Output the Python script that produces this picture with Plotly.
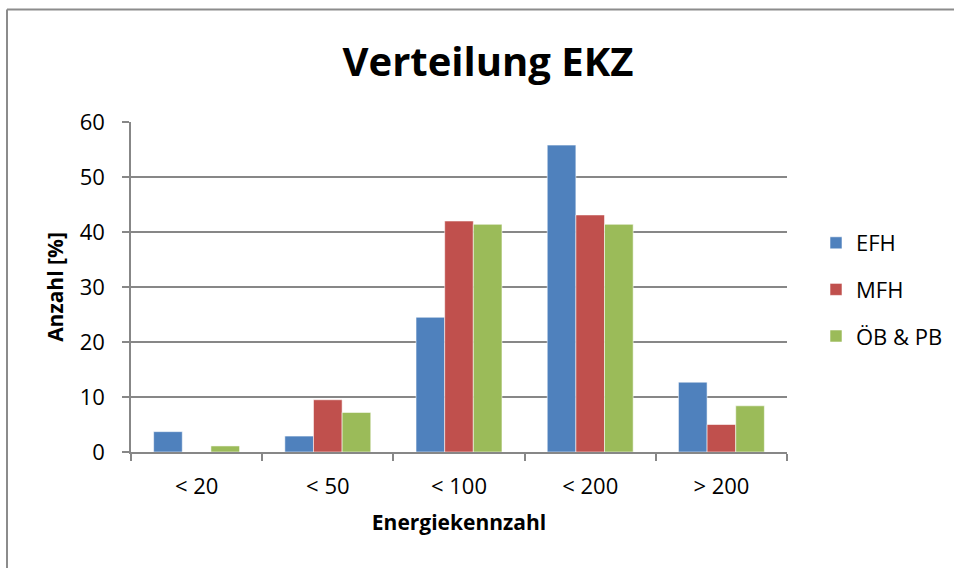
import plotly.graph_objects as go

categories = ["< 20", "< 50", "< 100", "< 200", "> 200"]
series_names = ["EFH", "MFH", "ÖB & PB"]
efh = [3.7, 2.9, 24.5, 55.8, 12.7]
mfh = [0.0, 9.5, 42.0, 43.1, 5.0]
oeb = [1.1, 7.2, 41.4, 41.4, 8.4]
colors = ["#4F81BD", "#C0504D", "#9BBB59"]
y_ticks = [0, 10, 20, 30, 40, 50, 60]

W, H = 954, 568
L, R, T, B = 131, 954 - 787, 122, 568 - 452
pw, ph = W - L - R, H - T - B

FONT = "Open Sans"
fig = go.Figure()
for name, vals, c in zip(series_names, [efh, mfh, oeb], colors):
    fig.add_trace(go.Bar(
        x=categories, y=vals, name=name, legendgroup=name,
        marker=dict(color=c, line=dict(color="rgba(255,255,255,0.55)", width=1)),
    ))

grid = "#878787"
fig.update_layout(
    width=W, height=H,
    margin=dict(l=L, r=R, t=T, b=B, autoexpand=False),
    paper_bgcolor="white", plot_bgcolor="white",
    barmode="group", bargap=0.345, bargroupgap=0,
    font=dict(family=FONT, color="black"),
    title=dict(text="<b>Verteilung EKZ</b>", font=dict(size=40, family=FONT),
               x=(488 - L) / pw, xref="paper", xanchor="center",
               y=1 - 62 / H, yref="container", yanchor="middle"),
    legend=dict(x=(836 - 20 - L) / pw, xanchor="left", y=(452 - 222) / ph, yanchor="top",
                font=dict(size=22, family=FONT), traceorder="grouped", tracegroupgap=15,
                bgcolor="rgba(0,0,0,0)"),
    xaxis=dict(type="category", showgrid=False, showline=True, linecolor=grid, linewidth=1.5,
               ticks="outside", tickson="boundaries", ticklen=7, tickcolor=grid, tickwidth=1.5,
               tickfont=dict(size=22, family=FONT), ticklabelstandoff=14,
               title=dict(text="<b>Energiekennzahl</b>", font=dict(size=21, family=FONT), standoff=16)),
    yaxis=dict(range=[0, 60], tickvals=y_ticks, showgrid=True, gridcolor=grid, gridwidth=1.5,
               showline=True, linecolor=grid, linewidth=1.5, zeroline=False,
               ticks="outside", ticklen=7, tickcolor=grid, tickwidth=1.5,
               tickfont=dict(size=22, family=FONT), ticklabelstandoff=13,
               title=dict(text="<b>Anzahl [%]</b>", font=dict(size=21, family=FONT), standoff=10)),
    shapes=[
        dict(type="line", xref="paper", yref="paper", x0=(7 - L) / pw, x1=(W + 20 - L) / pw,
             y0=(452 - 9.5) / ph, y1=(452 - 9.5) / ph, line=dict(color="#8c8c8c", width=2)),
        dict(type="line", xref="paper", yref="paper", x0=(7 - L) / pw, x1=(7 - L) / pw,
             y0=(452 - 9.5) / ph, y1=(452 - H - 20) / ph, line=dict(color="#8c8c8c", width=2)),
    ],
)
fig.write_html("out.html", config={"displayModeBar": False},
               post_script="document.body.style.margin='0';document.body.style.overflow='hidden';")
